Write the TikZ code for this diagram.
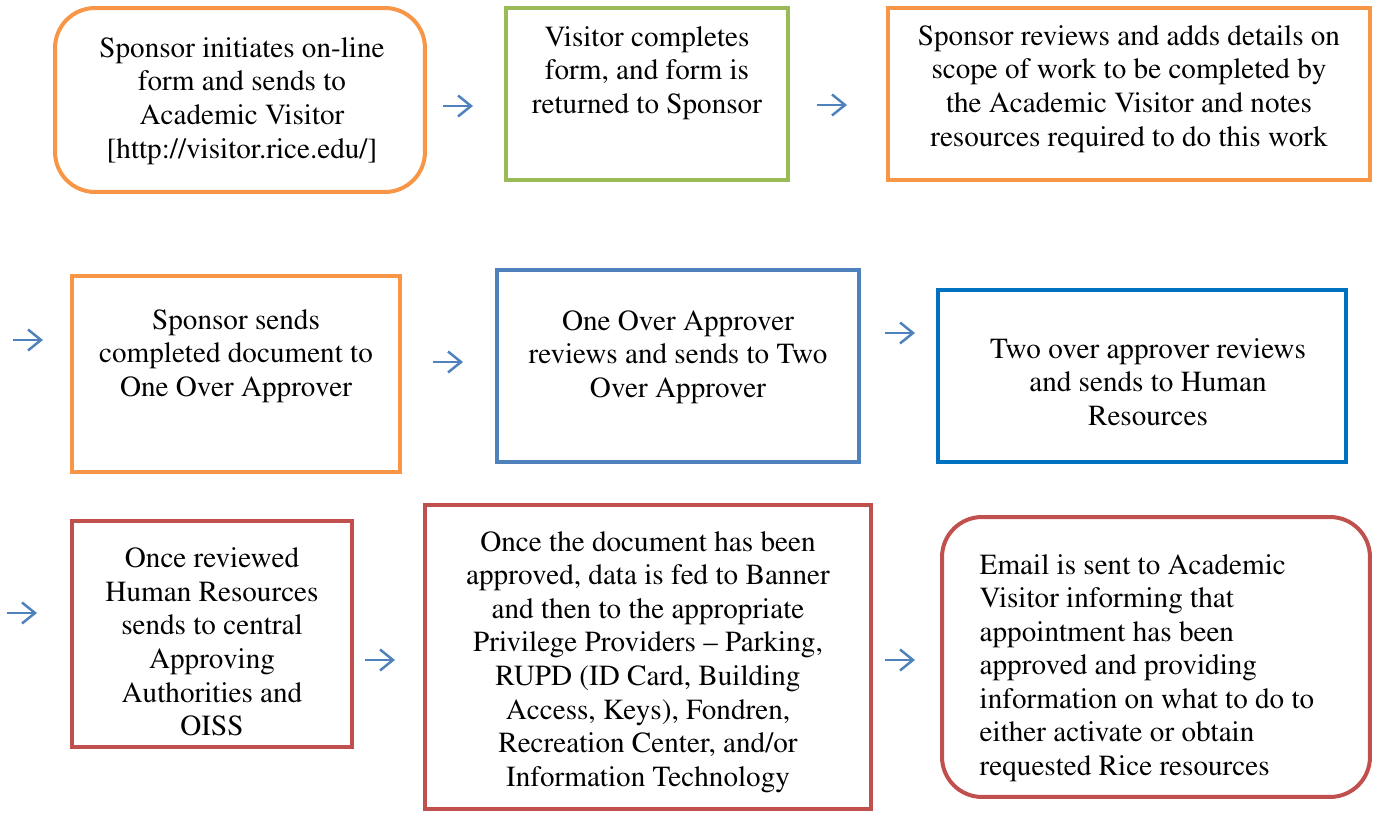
\documentclass[tikz,border=0pt]{standalone}
\usepackage[T1]{fontenc}
\usepackage{mathptmx}
\usepackage{tikz}
\usetikzlibrary{arrows.meta, positioning}
\definecolor{visitororange}{RGB}{247, 150, 70}
\definecolor{visitorgreen}{RGB}{155, 187, 89}
\definecolor{visitorsteel}{RGB}{79, 129, 189}
\definecolor{visitorblue}{RGB}{0, 112, 192}
\definecolor{visitorred}{RGB}{192, 80, 77}

\begin{document}
\begin{tikzpicture}[
    x=0.02cm, y=-0.02cm,
    >={Straight Barb[length=0.26cm, width=0.42cm]},
    every node/.style={font=\fontsize{16.6}{19.1}\selectfont},
    stage/.style={rectangle, draw, line width=0.08cm, inner sep=0pt},
    roundstage/.style={stage, rounded corners=0.8cm},
    txt/.style={align=center, inner sep=0pt},
    flow/.style={->, line width=0.05cm, visitorsteel}
]
\useasboundingbox (0,0) rectangle (1374,813);

% first row
\node[roundstage, draw=visitororange, minimum width=7.4cm, minimum height=3.68cm] (initiate) at (240,100) {};
\node[txt] (initiate-t) at (242,101) {Sponsor initiates on-line\\form and sends to\\Academic Visitor\\{[}http://visitor.rice.edu/{]}};

\node[stage, draw=visitorgreen, minimum width=5.64cm, minimum height=3.44cm] (complete) at (647,94) {};
\node[txt] (complete-t) at (647,73) {Visitor completes\\form, and form is\\returned to Sponsor};

\node[stage, draw=visitororange, minimum width=9.64cm, minimum height=3.44cm] (scope) at (1129,94) {};
\node[txt] (scope-t) at (1129,89) {Sponsor reviews and adds details on\\scope of work to be completed by\\the Academic Visitor and notes\\resources required to do this work};

% second row
\node[stage, draw=visitororange, minimum width=6.56cm, minimum height=3.92cm] (send) at (236,374) {};
\node[txt] (send-t) at (236,356) {Sponsor sends\\completed document to\\One Over Approver};

\node[stage, draw=visitorsteel, minimum width=7.24cm, minimum height=3.84cm] (oneover) at (678,366) {};
\node[txt] (oneover-t) at (678,357) {One Over Approver\\reviews and sends to Two\\Over Approver};

\node[stage, draw=visitorblue, minimum width=8.16cm, minimum height=3.44cm] (twoover) at (1142,376) {};
\node[txt] (twoover-t) at (1148,382) {Two over approver reviews\\and sends to Human\\Resources};

% third row
\node[stage, draw=visitorred, minimum width=5.62cm, minimum height=4.54cm] (hr) at (212,634) {};
\node[txt] (hr-t) at (212,642) {Once reviewed\\Human Resources\\sends to central\\Approving\\Authorities and\\OISS};

\node[stage, draw=visitorred, minimum width=8.94cm, minimum height=6.1cm] (banner) at (648,657) {};
\node[txt] (banner-t) at (648,662) {Once the document has been\\approved, data is fed to Banner\\and then to the appropriate\\Privilege Providers -- Parking,\\RUPD (ID Card, Building\\Access, Keys), Fondren,\\Recreation Center, and/or\\Information Technology};

\node[roundstage, draw=visitorred, minimum width=8.56cm, minimum height=5.6cm] (email) at (1156,657) {};
\node[txt, align=left] (email-t) at (1147,668) {Email is sent to Academic\\Visitor informing that\\appointment has been\\approved and providing\\information on what to do to\\either activate or obtain\\requested Rice resources};

% arrows between the stages
\foreach \n/\x/\y in {1/443/106, 2/817/105, 3/13/340, 4/433/362, 5/885/333, 6/7/613, 7/365/660, 8/885/660} {
    \coordinate (step\n) at (\x,\y);
    \draw[flow] (step\n) -- ++(30,0);
}

\end{tikzpicture}
\end{document}
